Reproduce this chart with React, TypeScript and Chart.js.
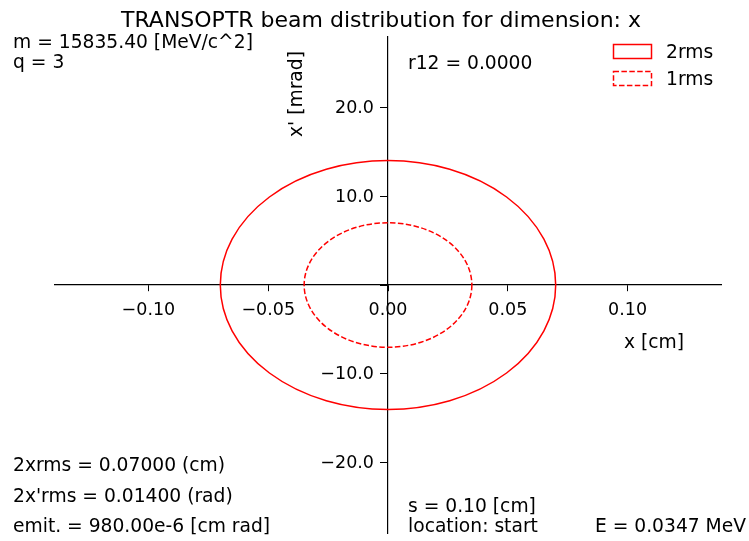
import React, { useEffect, useRef } from "react";
import { Chart, registerables } from "chart.js";

Chart.register(...registerables);

// Beam envelope ellipses (centre at origin, semi-axes in axis units)
const ellipseNames = ["2rms", "1rms"];
const ellipseXHalf = [0.07, 0.035]; // cm
const ellipseYHalf = [14.0, 7.0]; // mrad
const ellipseDash = [[], [5.5, 2.4]];

// Axis ranges and tick values
const xRange = [-0.139, 0.139];
const yRange = [-27.9, 27.9];
const xTickValues = [-0.1, -0.05, 0, 0.05, 0.1];
const yTickValues = [-20, -10, 0, 10, 20];
// the 0.0 label on the y spine is left out (it would sit on the x spine)
const yLabelledTicks = [-20, -10, 10, 20];

// Annotation strings
const titleText = "TRANSOPTR beam distribution for dimension: x";
const headerLines = ["m = 15835.40 [MeV/c^2]", "q = 3"];
const r12Text = "r12 = 0.0000";
const rmsLines = ["2xrms = 0.07000 (cm)", "2x'rms = 0.01400 (rad)", "emit. = 980.00e-6 [cm rad]"];
const positionLines = ["s = 0.10 [cm]", "location: start"];
const energyText = "E = 0.0347 MeV";
const xAxisLabel = "x [cm]";
const yAxisLabel = "x' [mrad]";

const FONT = "'DejaVu Sans', 'Liberation Sans', sans-serif";
const RED = "#ff0000";
const TICK_SIZE = 17.5;
const TEXT_SIZE = 18.7;

const fmtMinus = (s: string) => s.replace("-", "\u2212");

const ellipsePlugin = {
  id: "beamEllipses",
  afterDatasetsDraw(chart: any) {
    const { ctx, scales } = chart;
    const xs = scales.x;
    const ys = scales.y;
    const cx = xs.getPixelForValue(0);
    const cy = ys.getPixelForValue(0);
    ctx.save();
    ellipseNames.forEach((_, i) => {
      const rx = Math.abs(xs.getPixelForValue(ellipseXHalf[i]) - cx);
      const ry = Math.abs(ys.getPixelForValue(ellipseYHalf[i]) - cy);
      ctx.beginPath();
      ctx.setLineDash(ellipseDash[i]);
      ctx.strokeStyle = RED;
      ctx.lineWidth = 1.5;
      ctx.ellipse(cx, cy, rx, ry, 0, 0, Math.PI * 2);
      ctx.stroke();
    });
    ctx.restore();
  },
};

// y tick labels sit left of the centred spine, past the tick marks
const yTickLabelPlugin = {
  id: "yTickLabels",
  afterDraw(chart: any) {
    const { ctx, scales } = chart;
    const xs = scales.x;
    const ys = scales.y;
    const axisX = xs.getPixelForValue(0);
    ctx.save();
    ctx.fillStyle = "#000";
    ctx.font = `${TICK_SIZE}px ${FONT}`;
    ctx.textAlign = "right";
    ctx.textBaseline = "middle";
    yLabelledTicks.forEach((v) => {
      ctx.fillText(fmtMinus(v.toFixed(1)), axisX - 14, ys.getPixelForValue(v) + 1);
    });
    ctx.restore();
  },
};

const textPlugin = {
  id: "beamText",
  afterDraw(chart: any) {
    const { ctx } = chart;
    ctx.save();
    ctx.fillStyle = "#000";
    ctx.textBaseline = "alphabetic";

    // title
    ctx.font = `22px ${FONT}`;
    ctx.textAlign = "center";
    ctx.fillText(titleText, 381, 27);

    ctx.font = `${TEXT_SIZE}px ${FONT}`;
    ctx.textAlign = "left";
    headerLines.forEach((t, i) => ctx.fillText(t, 13, 48 + i * 20));
    ctx.fillText(r12Text, 408, 69);
    rmsLines.forEach((t, i) => ctx.fillText(t, 13, 471 + i * 30.5));
    positionLines.forEach((t, i) => ctx.fillText(t, 408, 512 + i * 20));
    ctx.textAlign = "right";
    ctx.fillText(energyText, 746, 532);

    // axis labels
    ctx.textAlign = "left";
    ctx.fillText(xAxisLabel, 624, 348);
    ctx.save();
    ctx.translate(302, 94);
    ctx.rotate(-Math.PI / 2);
    ctx.textAlign = "center";
    ctx.fillText(yAxisLabel, 0, 0);
    ctx.restore();

    // legend
    ellipseNames.forEach((name, i) => {
      const y = 44 + i * 27;
      ctx.save();
      ctx.strokeStyle = RED;
      ctx.lineWidth = 1.5;
      ctx.setLineDash(ellipseDash[i]);
      ctx.strokeRect(613.5, y + 0.5, 38, 14);
      ctx.restore();
      ctx.textAlign = "left";
      ctx.fillText(name, 666, y + 14);
    });
    ctx.restore();
  },
};

export default function App() {
  const canvasRef = useRef<HTMLCanvasElement | null>(null);

  useEffect(() => {
    const canvas = canvasRef.current;
    if (!canvas) return;
    const chart = new Chart(canvas, {
      type: "scatter",
      data: {
        datasets: ellipseNames.map((name) => ({ label: name, data: [] as any[] })),
      },
      options: {
        animation: false,
        responsive: false,
        devicePixelRatio: 1,
        layout: { padding: { left: 55, right: 28, top: 37, bottom: 8 } },
        plugins: { legend: { display: false }, title: { display: false }, tooltip: { enabled: false } },
        scales: {
          x: {
            type: "linear",
            position: { y: 0 } as any,
            min: xRange[0],
            max: xRange[1],
            afterBuildTicks: (s: any) => {
              s.ticks = xTickValues.map((v) => ({ value: v }));
            },
            border: { display: true, color: "#000", width: 1.2 },
            grid: { display: true, drawOnChartArea: false, drawTicks: true, tickLength: 6, color: "#000", lineWidth: 1 },
            ticks: {
              autoSkip: false,
              maxRotation: 0,
              padding: 9,
              color: "#000",
              font: { family: FONT, size: TICK_SIZE },
              callback: (v: any) => fmtMinus(Number(v).toFixed(2)),
            },
          },
          y: {
            type: "linear",
            position: { x: 0 } as any,
            min: yRange[0],
            max: yRange[1],
            afterBuildTicks: (s: any) => {
              s.ticks = yTickValues.map((v) => ({ value: v }));
            },
            border: { display: true, color: "#000", width: 1.2 },
            grid: { display: true, drawOnChartArea: false, drawTicks: true, tickLength: 7, color: "#000", lineWidth: 1 },
            ticks: { display: false },
          },
        },
      },
      plugins: [ellipsePlugin, yTickLabelPlugin, textPlugin],
    });
    return () => chart.destroy();
  }, []);

  return (
    <div style={{ position: "fixed", left: 0, top: 0, width: 749, height: 541, background: "#fff" }}>
      <canvas ref={canvasRef} width={749} height={541} style={{ display: "block", width: 749, height: 541 }} />
    </div>
  );
}
